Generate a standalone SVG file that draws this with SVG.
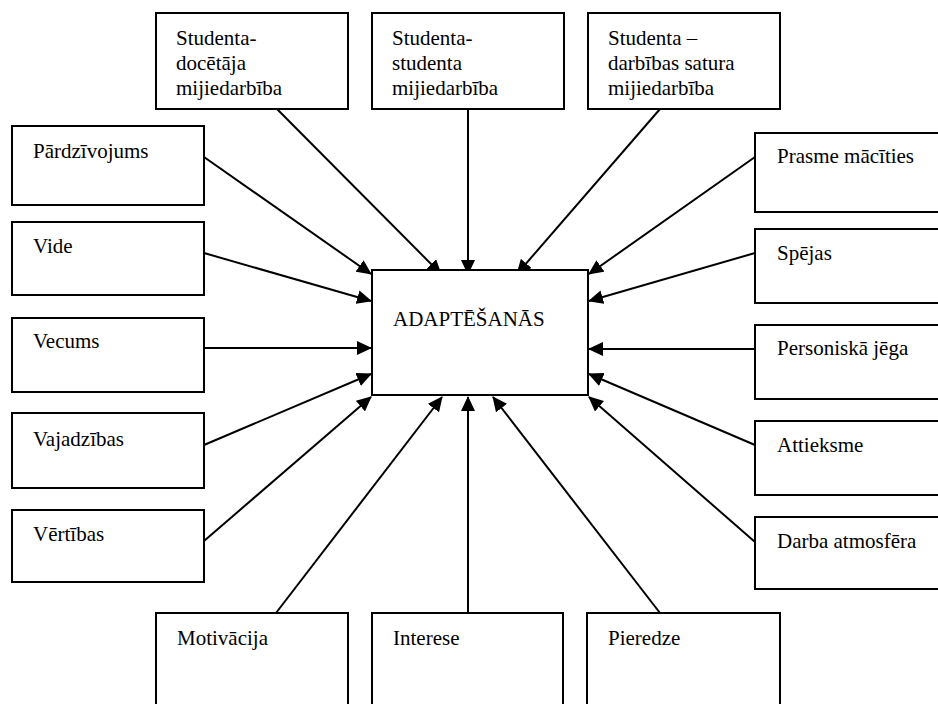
<svg xmlns="http://www.w3.org/2000/svg" width="938" height="704" viewBox="0 0 938 704">
<defs>
<marker id="arr" markerUnits="userSpaceOnUse" markerWidth="15" markerHeight="14" viewBox="0 0 15 14" refX="14" refY="7" orient="auto">
<path d="M0,0 L15,7 L0,14 z" fill="#000"/>
</marker>
<style>
.box{fill:#fff;stroke:#000;stroke-width:2}
text{font-family:"Liberation Serif","Times New Roman",serif;font-size:21px;fill:#000}
.c line{stroke:#000;stroke-width:2;marker-end:url(#arr)}
</style>
</defs>
<rect width="938" height="704" fill="#fff"/>
<g class="c" id="connectors">
<line x1="277" y1="109" x2="441" y2="274"/>
<line x1="468" y1="109" x2="468" y2="274"/>
<line x1="660" y1="109" x2="517" y2="274"/>
<line x1="204" y1="157" x2="371" y2="274"/>
<line x1="204" y1="253" x2="371" y2="301"/>
<line x1="204" y1="348" x2="371" y2="348"/>
<line x1="204" y1="445" x2="371" y2="374"/>
<line x1="204" y1="541" x2="371" y2="397"/>
<line x1="755" y1="157" x2="589" y2="274"/>
<line x1="755" y1="253" x2="589" y2="301"/>
<line x1="755" y1="349" x2="589" y2="349"/>
<line x1="755" y1="445" x2="589" y2="374"/>
<line x1="755" y1="542" x2="589" y2="397"/>
<line x1="276" y1="613" x2="442" y2="397"/>
<line x1="468" y1="613" x2="468" y2="397"/>
<line x1="660" y1="613" x2="493" y2="397"/>
</g>
<g id="center"><rect class="box" x="372" y="270" width="216" height="125"/><text x="393" y="326">ADAPTĒŠANĀS</text></g>
<g id="t1"><rect class="box" x="156" y="13" width="192" height="96"/><text x="176" y="45">Studenta-</text><text x="176" y="70">docētāja</text><text x="176" y="95">mijiedarbība</text></g>
<g id="t2"><rect class="box" x="372" y="13" width="192" height="96"/><text x="392" y="45">Studenta-</text><text x="392" y="70">studenta</text><text x="392" y="95">mijiedarbība</text></g>
<g id="t3"><rect class="box" x="588" y="13" width="192" height="96"/><text x="608" y="45">Studenta –</text><text x="608" y="70">darbības satura</text><text x="608" y="95">mijiedarbība</text></g>
<g id="l1"><rect class="box" x="12" y="126" width="192" height="79"/><text x="33" y="158">Pārdzīvojums</text></g>
<g id="l2"><rect class="box" x="12" y="222" width="192" height="73"/><text x="33" y="253">Vide</text></g>
<g id="l3"><rect class="box" x="12" y="318" width="192" height="74"/><text x="33" y="348">Vecums</text></g>
<g id="l4"><rect class="box" x="12" y="413" width="192" height="75"/><text x="33" y="446">Vajadzības</text></g>
<g id="l5"><rect class="box" x="12" y="510" width="192" height="72"/><text x="33" y="541">Vērtības</text></g>
<g id="r1"><rect class="box" x="755" y="133" width="200" height="79"/><text x="777" y="163">Prasme mācīties</text></g>
<g id="r2"><rect class="box" x="755" y="229" width="200" height="74"/><text x="777" y="260">Spējas</text></g>
<g id="r3"><rect class="box" x="755" y="325" width="200" height="74"/><text x="777" y="355">Personiskā jēga</text></g>
<g id="r4"><rect class="box" x="755" y="421" width="200" height="74"/><text x="777" y="452">Attieksme</text></g>
<g id="r5"><rect class="box" x="755" y="517" width="200" height="72"/><text x="777" y="548">Darba atmosfēra</text></g>
<g id="b1"><rect class="box" x="156" y="613" width="192" height="110"/><text x="177" y="645">Motivācija</text></g>
<g id="b2"><rect class="box" x="372" y="613" width="191" height="110"/><text x="393" y="645">Interese</text></g>
<g id="b3"><rect class="box" x="587" y="613" width="193" height="110"/><text x="608" y="645">Pieredze</text></g>
</svg>
